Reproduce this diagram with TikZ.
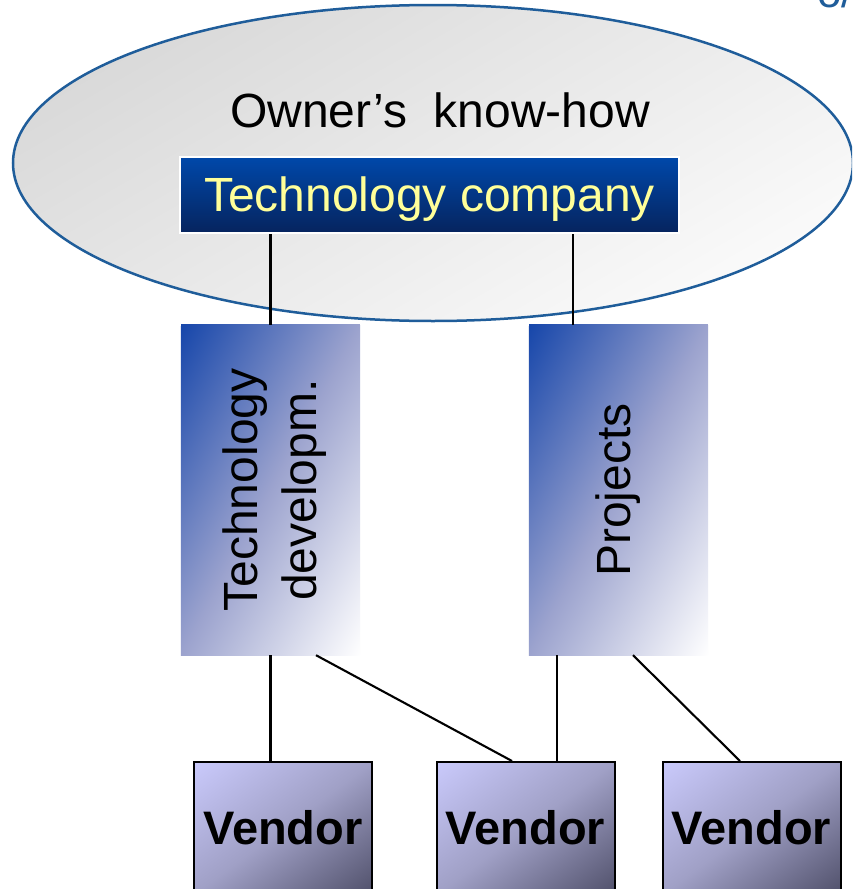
\documentclass[tikz,border=0pt]{standalone}
\usepackage{fontspec}
\setmainfont{Liberation Sans}
\usetikzlibrary{shapes.geometric,calc}
\definecolor{ellline}{HTML}{1F5D9A}
\definecolor{elltop}{HTML}{D9D9D9}
\definecolor{ellbot}{HTML}{FAFAFA}
\definecolor{tctop}{HTML}{0048AA}
\definecolor{tcbot}{HTML}{06245E}
\definecolor{tcyel}{HTML}{FFFF99}
\definecolor{bxtop}{HTML}{1646AA}
\definecolor{bxmid}{HTML}{9CA3CE}
\definecolor{vdtop}{HTML}{CACAFC}
\definecolor{vdmid}{HTML}{A0A0C6}
\definecolor{vdbot}{HTML}{50506A}
\pgfdeclarehorizontalshading{diagshade}{100bp}{color(0bp)=(bxtop); color(50bp)=(bxmid); color(100bp)=(white)}
\pgfdeclarehorizontalshading{vendshade}{100bp}{color(0bp)=(vdtop); color(50bp)=(vdmid); color(100bp)=(vdbot)}
\newcommand{\diagfill}[4]{%
  \begin{scope}
    \clip (#1.north west) rectangle (#1.south east);
    \pgflowlevel{\pgftransformshift{\pgfpointanchor{#1}{center}}}%
    \pgflowlevel{\pgftransformxscale{#3}}%
    \pgflowlevel{\pgftransformyscale{#4}}%
    \pgflowlevel{\pgftransformrotate{-45}}%
    \pgflowlevel{\pgftransformscale{1.4142}}%
    \pgftext{\pgfuseshading{#2}}%
  \end{scope}}
\tikzset{
  bigfont/.style={font=\fontsize{48}{59}\selectfont},
  gradbox/.style={inner sep=0pt, minimum width=179, minimum height=330},
  vendorbox/.style={inner sep=0pt, minimum width=178, minimum height=132, font=\fontsize{47}{56}\selectfont\bfseries},
  vendorframe/.style={draw=black, line width=2pt},
  link/.style={draw=black, line width=2.1pt}
}
\begin{document}
\begin{tikzpicture}[x=1pt,y=-1pt]
\useasboundingbox (0,0) rectangle (852,889);
\clip (0,0) rectangle (852,889);
\fill[white] (0,0) rectangle (852,889);
% partial title fragment at top right
\node[anchor=base east, inner sep=0pt, text=ellline, font=\fontsize{44}{48}\selectfont] (frag) at (854,7) {o/};
% owner's know-how ellipse
\node[ellipse, draw=ellline, line width=2.5pt, inner sep=0pt, minimum width=840, minimum height=316, top color=elltop, bottom color=ellbot, shading angle=30] (owner) at (433,163) {};
\node[bigfont, inner sep=0pt] (ownertext) at (440,110) {Owner’s\ \ know-how};
% technology company
\node[draw=white, line width=2pt, inner sep=0pt, top color=tctop, bottom color=tcbot, minimum width=499, minimum height=76] (tc) at (429.5,195) {};
\node[bigfont, text=tcyel, inner sep=0pt] (tctext) at ([yshift=-4pt]tc.center) {Technology company};
% middle boxes
\node[gradbox] (td) at (270.5,490) {};
\node[gradbox] (pj) at (618.5,490) {};
\diagfill{td}{diagshade}{1.79}{3.30}
\diagfill{pj}{diagshade}{1.79}{3.30}
\node[bigfont, rotate=90, align=center, inner sep=0pt] (tdtext) at ([xshift=4pt]td.center) {Technology\\developm.};
\node[bigfont, rotate=90, inner sep=0pt] (pjtext) at (pj.center) {Projects};
% vendors
\node[vendorbox] (v1) at (283,828) {};
\node[vendorbox] (v2) at (525.5,828) {};
\node[vendorbox] (v3) at (751.5,828) {};
\diagfill{v1}{vendshade}{1.78}{1.32}
\diagfill{v2}{vendshade}{1.78}{1.32}
\diagfill{v3}{vendshade}{1.78}{1.32}
\node[vendorbox, vendorframe] (v1f) at (v1.center) {Vendor};
\node[vendorbox, vendorframe] (v2f) at (v2.center) {Vendor};
\node[vendorbox, vendorframe] (v3f) at (v3.center) {Vendor};
% connectors top
\draw[link] (td.north) -- (td.north |- tc.south);
\draw[link] ([xshift=-45.5pt]pj.north) -- ([xshift=-45.5pt]pj.north |- tc.south);
% connectors bottom
\draw[link] (td.south) -- (td.south |- v1f.north);
\draw[link] ([xshift=45.5pt]td.south) -- ([xshift=-13.5pt]v2f.north);
\draw[link] ([xshift=-61.5pt]pj.south) -- ([xshift=-61.5pt]pj.south |- v2f.north);
\draw[link] ([xshift=14.5pt]pj.south) -- ([xshift=-11.5pt]v3f.north);
\end{tikzpicture}
\end{document}
